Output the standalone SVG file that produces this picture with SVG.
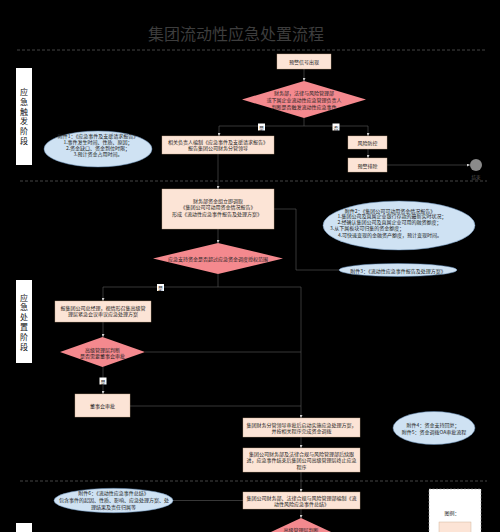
<svg xmlns="http://www.w3.org/2000/svg" width="500" height="532" viewBox="0 0 500 532">
<style>
.bg{fill:#000}
.box{fill:#FCE4D6;stroke:#c9a98c;stroke-width:0.4}
.dia{fill:#F4898E}
.ell{fill:#CFE2F3;stroke:#5f84ad;stroke-width:0.5}
.t{font-family:"Noto Sans CJK SC","Noto Sans",sans-serif;font-size:5px;fill:#222;text-anchor:middle;dominant-baseline:central}
.lt{font-size:8px;fill:#111}
.con{fill:none;stroke:#5c5c5c;stroke-width:0.6}
.sep{stroke:#555;stroke-width:0.8;stroke-dasharray:3 2}
.lane{fill:#fff}
.lab{fill:#fff}
</style>
<defs>
<marker id="a" viewBox="0 0 6 6" refX="6" refY="3" markerWidth="3" markerHeight="3" markerUnits="userSpaceOnUse" orient="auto"><path d="M0,0 L6,3 L0,6 z" fill="#cfcfcf"/></marker>
</defs>
<rect class="bg" x="0" y="0" width="500" height="532"/>
<text class="t" x="236" y="32.5" style="font-size:16px;fill:#3d3d3d">集团流动性应急处置流程</text>
<g id="separators">
<line class="sep" x1="17" y1="50" x2="487" y2="50"/>
<line class="sep" x1="20" y1="181" x2="487" y2="181"/>
<line class="sep" x1="20" y1="481" x2="487" y2="481"/>
</g>
<g id="lane1">
<rect class="lane" x="16" y="68" width="16" height="97"/>
<text class="t lt" x="24" y="91.7">应</text><text class="t lt" x="24" y="101.4">急</text><text class="t lt" x="24" y="111.1">触</text><text class="t lt" x="24" y="120.8">发</text><text class="t lt" x="24" y="130.5">阶</text><text class="t lt" x="24" y="140.2">段</text>
</g>
<g id="lane2">
<rect class="lane" x="16" y="280" width="16" height="83"/>
<text class="t lt" x="24" y="297">应</text><text class="t lt" x="24" y="306.8">急</text><text class="t lt" x="24" y="316.6">处</text><text class="t lt" x="24" y="326.4">置</text><text class="t lt" x="24" y="336.2">阶</text><text class="t lt" x="24" y="346">段</text>
</g>
<g id="lane3"><rect class="lane" x="16" y="523" width="16" height="20"/></g>
<g id="connectors">
<path class="con" d="M304,69 V81" marker-end="url(#a)"/>
<path class="con" d="M304,118 V126 H219 V136" marker-end="url(#a)"/>
<path class="con" d="M304,126 H368 V136" marker-end="url(#a)"/>
<path class="con" d="M368,149 V158" marker-end="url(#a)"/>
<path class="con" d="M387,165 H470" marker-end="url(#a)"/>
<path class="con" d="M218,154 V189" marker-end="url(#a)"/>
<path class="con" d="M218,229 V243" marker-end="url(#a)"/>
<path class="con" d="M274,209 H296 V270 H339"/>
<path class="con" d="M218,274 V287 H103 V301" marker-end="url(#a)"/>
<path class="con" d="M218,287 H301 V418" marker-end="url(#a)"/>
<path class="con" d="M145,352 H301"/>
<path class="con" d="M130,406 H301"/>
<path class="con" d="M103,322 V337" marker-end="url(#a)"/>
<path class="con" d="M103,367 V394" marker-end="url(#a)"/>
<path class="con" d="M301,437 V448" marker-end="url(#a)"/>
<path class="con" d="M301,472 V492" marker-end="url(#a)"/>
<path class="con" d="M301,509 V518" marker-end="url(#a)"/>
<path class="con" d="M173,500.5 H243"/>
<rect class="lab" x="258" y="123.5" width="7" height="7"/><text class="t" x="261.5" y="127" style="font-size:5px">是</text>
<rect class="lab" x="332.5" y="123.5" width="7" height="7"/><text class="t" x="336" y="127" style="font-size:5px">否</text>
<rect class="lab" x="157" y="284" width="7" height="7"/><text class="t" x="160.5" y="287.5" style="font-size:5px">是</text>
<rect class="lab" x="99.5" y="377.5" width="7" height="7"/><text class="t" x="103" y="381" style="font-size:5px">是</text>
</g>
<g id="n1"><rect class="box" x="277" y="54" width="54" height="15"/><text class="t" x="304" y="61.5">预警信号出现</text></g>
<g id="d1"><polygon class="dia" points="304,81 366,99.5 304,118 242,99.5"/>
<text class="t" x="304" y="92.7">财务部，法律与风险管理部</text><text class="t" x="304" y="99.3">或下属企业流动性应急管理负责人</text><text class="t" x="304" y="106">判断是否触发流动性应急事件</text></g>
<g id="n2"><rect class="box" x="162" y="136" width="112" height="18"/>
<text class="t" x="218" y="141.7">相关负责人编制《应急事件及支援请求报告》</text><text class="t" x="218" y="147.9">报告集团公司财务分管领导</text></g>
<g id="n3"><rect class="box" x="348" y="136" width="39" height="13"/><text class="t" x="367.5" y="142.5">风险防控</text></g>
<g id="n4"><rect class="box" x="348" y="158" width="39" height="14"/><text class="t" x="367.5" y="165">预警排除</text></g>
<g id="end"><circle cx="476" cy="165" r="6" fill="#8a8a8a"/><text class="t" x="476" y="177" style="font-size:4.5px;fill:#555">结束</text></g>
<g id="e1"><ellipse class="ell" cx="98" cy="149" rx="54" ry="18"/>
<text class="t" x="98" y="135.7">附件1：《应急事件及支援请求报告》</text><text class="t" x="98" y="141.7">1.事件发生时间、性质、原因；</text><text class="t" x="98" y="147.7">2.资金缺口、资金到位时限；</text><text class="t" x="98" y="153.7">3.预计资金占用时间。</text></g>
<g id="n5"><rect class="box" x="162" y="189" width="112" height="40"/>
<text class="t" x="218" y="200.5">财务部资金组立即调取</text><text class="t" x="218" y="206.8">《集团公司可动用资金情况报告》</text><text class="t" x="217" y="213.2">形成《流动性应急事件报告及处理方案》</text></g>
<g id="d2"><polygon class="dia" points="218,243 283,258.5 218,274 153,258.5"/>
<text class="t" x="218" y="258">应急支持资金是否超过应急资金调度授权范围</text></g>
<g id="e2"><ellipse class="ell" cx="399" cy="225.5" rx="76" ry="24.5"/>
<text class="t" x="390" y="210">附件2：《集团公司可动用资金情况报告》</text><text class="t" x="392" y="215.8">1.集团公司及直属企业银行存款的最新实时状况；</text><text class="t" x="389.5" y="221.8">2.经确认集团公司及直属企业可用的融资额度；</text><text class="t" x="330" y="227.8" style="text-anchor:start">3.从下属板块可归集的资金额度；</text><text class="t" x="390" y="234.3">4.可快速变现的金融资产额度，预计变现时间。</text></g>
<g id="e3"><ellipse class="ell" cx="398" cy="270" rx="59" ry="6.5"/>
<text class="t" x="398" y="270">附件3：《流动性应急事件报告及处理方案》</text></g>
<g id="n6"><rect class="box" x="55" y="301" width="96" height="21"/>
<text class="t" x="103" y="307.3">报集团公司总经理，视情形召集高级管</text><text class="t" x="103" y="313.8">理层紧急会议审议应急处理方案</text></g>
<g id="d3"><polygon class="dia" points="102.5,337 145,352 102.5,367 60,352"/>
<text class="t" x="102.5" y="349.5">高级管理层判断</text><text class="t" x="102.5" y="355.8">是否需要董事会审批</text></g>
<g id="n7"><rect class="box" x="75" y="394" width="55" height="23"/><text class="t" x="102.5" y="405.5">董事会审批</text></g>
<g id="n8"><rect class="box" x="243" y="418" width="117" height="19"/>
<text class="t" x="301.5" y="424.3">集团财务分管领导审批后启动实施应急处理方案，</text><text class="t" x="301.5" y="430.7">并按相关程序完成资金调拨</text></g>
<g id="n9"><rect class="box" x="243" y="448" width="117" height="24"/>
<text class="t" x="301.5" y="453">集团公司财务部及法律合规与风险管理部后续跟</text><text class="t" x="301.5" y="459.5">进，应急事件结束后集团公司高级管理层终止应急</text><text class="t" x="301.5" y="466">程序</text></g>
<g id="e4"><ellipse class="ell" cx="434" cy="428" rx="41" ry="16.5"/>
<text class="t" x="433" y="424.5">附件4：资金支持回复；</text><text class="t" x="434" y="431">附件5：资金调拨OA审批流程</text></g>
<g id="n10"><rect class="box" x="243" y="492" width="117" height="17"/>
<text class="t" x="301.5" y="497.5">集团公司财务部、法律合规与风险管理部编制《流</text><text class="t" x="301.5" y="503.5">动性风险应急事件总结》</text></g>
<g id="d4"><polygon class="dia" points="301,518 344,538 301,558 258,538"/>
<text class="t" x="301" y="529.5">高级管理层判断</text></g>
<g id="e6"><ellipse class="ell" cx="113.5" cy="500.5" rx="59.5" ry="12.2"/>
<text class="t" x="113.5" y="492.9">附件6：《流动性应急事件总结》</text><text class="t" x="114" y="499.7">包含事件的起因、性质、影响、应急处理方案、处</text><text class="t" x="113.5" y="506.3">理结果及责任归属等</text></g>
<g id="legend"><rect x="429" y="489" width="52" height="60" fill="#fff" stroke="#999" stroke-width="0.6" stroke-dasharray="2 1.5"/>
<text class="t" x="452" y="512.7">图例：</text>
<rect class="box" x="439" y="522" width="32" height="20"/></g>
</svg>
